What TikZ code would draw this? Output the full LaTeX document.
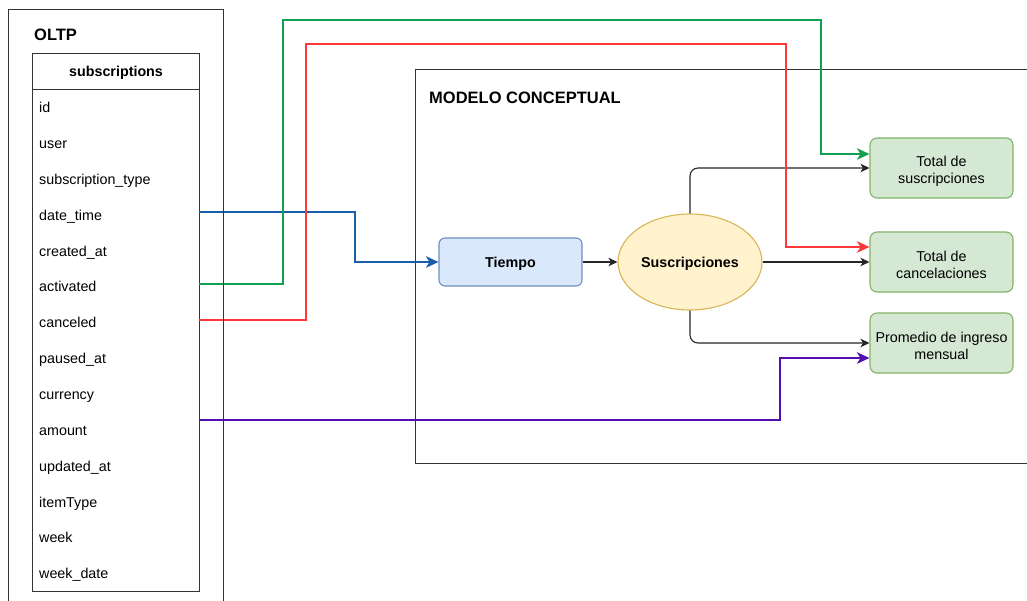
\documentclass[tikz,border=0pt]{standalone}
\usepackage{fontspec}
\setmainfont{Liberation Sans}
\usetikzlibrary{arrows.meta,shapes.geometric}

\definecolor{lnblue}{HTML}{1A5EA8}
\definecolor{lngreen}{HTML}{12A050}
\definecolor{lnred}{HTML}{FF3838}
\definecolor{lnpurple}{HTML}{5210B0}
\definecolor{tfill}{HTML}{DAE8FC}
\definecolor{tdraw}{HTML}{6C8EBF}
\definecolor{efill}{HTML}{FFF2CC}
\definecolor{edraw}{HTML}{D6B656}
\definecolor{gfill}{HTML}{D5E8D4}
\definecolor{gdraw}{HTML}{82B366}

% tall invisible strut that lowers two-line labels a little
\newcommand{\topstrut}{\rule{0pt}{16.5pt}}

\tikzset{
  frame/.style={draw=black!80, line width=1.1pt, inner sep=0pt},
  txt/.style={font=\fontsize{14.3}{17.5}\selectfont, inner sep=0pt, text height=10.3pt, text depth=3pt},
  heading/.style={font=\bfseries\fontsize{16.5}{19}\selectfont, inner sep=0pt},
  tiempobox/.style={draw=tdraw, fill=tfill, line width=1.1pt, rounded corners=6pt,
    minimum width=143pt, minimum height=48pt, text height=14pt, text depth=3pt,
    font=\bfseries\fontsize{14.3}{17.5}\selectfont},
  factnode/.style={ellipse, draw=edraw, fill=efill, line width=1.1pt, inner sep=0pt,
    minimum width=144pt, minimum height=96pt, text height=14pt, text depth=3pt,
    font=\bfseries\fontsize{14.3}{17.5}\selectfont},
  measure/.style={draw=gdraw, fill=gfill, line width=1.1pt, rounded corners=7pt,
    minimum width=143pt, minimum height=60pt, align=center, font=\fontsize{14.3}{17.5}\selectfont},
  link/.style={draw=black!85, line width=1.1pt, rounded corners=8pt,
    -{Stealth[length=9pt,width=8.5pt,inset=2.5pt]}},
  srclink/.style={line width=2pt, -{Stealth[length=12.5pt,width=11.5pt,inset=3.5pt]}},
}

\begin{document}
\begin{tikzpicture}[x=1pt,y=-1pt]
\useasboundingbox (0,0) rectangle (1027,601);
\clip (0,0) rectangle (1027,601);

% conceptual model container
\node[frame, anchor=north west, minimum width=640pt, minimum height=394pt] (modelo) at (415,69) {};
\node[heading, anchor=west] (modelotitle) at (429,98) {MODELO CONCEPTUAL};

% source table
\node[frame, anchor=north west, minimum width=167pt, minimum height=36pt, text height=12pt, text depth=3pt,
      font=\bfseries\fontsize{14.3}{17.5}\selectfont] (tblhead) at (32,53) {subscriptions};
\node[frame, anchor=north west, minimum width=167pt, minimum height=502pt] (tblbody) at (32,89) {};
\foreach \field [count=\i] in {id,user,subscription\_type,date\_time,created\_at,activated,
    canceled,paused\_at,currency,amount,updated\_at,itemType,week,week\_date}
  \node[txt, anchor=west] (row\i) at (39,{91+(\i-0.5)*35.86}) {\field};

% model nodes
\node[tiempobox] (tiempo) at (510.5,262) {Tiempo};
\node[factnode] (susc) at (690,262) {Suscripciones};
\node[measure] (tsus) at (941.5,168) {\topstrut Total de\\suscripciones};
\node[measure] (tcan) at (941.5,262) {\topstrut Total de\\cancelaciones};
\node[measure] (prom) at (941.5,343) {\topstrut Promedio de ingreso\\mensual};

% model connectors
\draw[link] (tiempo.east) -- (susc.west);
\draw[link] (susc.north) |- (tsus.west);
\draw[link] (susc.east) -- (tcan.west);
\draw[link] (susc.south) |- (prom.west);

% field mappings
\coordinate (fdate) at (199,212);
\coordinate (factv) at (199,284);
\coordinate (fcanc) at (199,320);
\coordinate (famnt) at (199,420);

\draw[srclink, lnblue] (fdate) -- (355,212) -- (355,262) -- (tiempo.west);
\draw[srclink, lngreen] (factv) -- (283,284) -- (283,20) -- (821,20) -- (821,154) -- ([yshift=14pt]tsus.west);
\draw[srclink, lnred] (fcanc) -- (306,320) -- (306,44) -- (786,44) -- (786,247) -- ([yshift=15pt]tcan.west);
\draw[srclink, lnpurple] (famnt) -- (780,420) -- (780,358) -- ([yshift=-15pt]prom.west);

% source system container
\node[frame, anchor=north west, minimum width=215pt, minimum height=610pt] (oltp) at (8,9) {};
\node[heading, anchor=west] (oltptitle) at (34,35) {OLTP};
\end{tikzpicture}
\end{document}
